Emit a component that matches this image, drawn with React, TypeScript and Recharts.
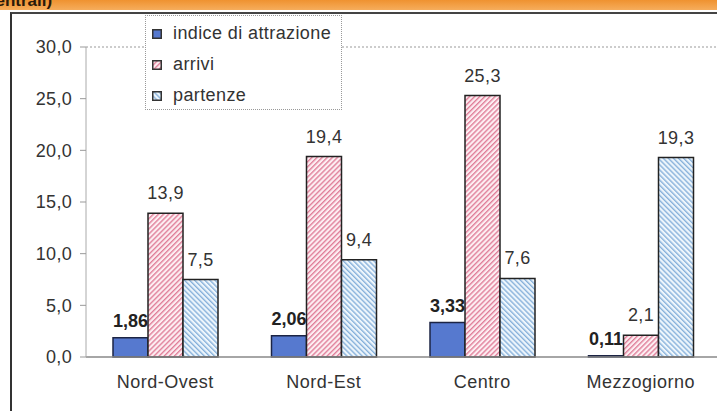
import React from "react";
import {
  BarChart,
  Bar,
  XAxis,
  YAxis,
  Legend,
  LabelList,
  ReferenceLine,
} from "recharts";

const regions = ["Nord-Ovest", "Nord-Est", "Centro", "Mezzogiorno"];
const indice = [1.86, 2.06, 3.33, 0.11];
const arrivi = [13.9, 19.4, 25.3, 2.1];
const partenze = [7.5, 9.4, 7.6, 19.3];
const yTicks = [0, 5, 10, 15, 20, 25, 30];
const seriesOrder = ["indice di attrazione", "arrivi", "partenze"];

const data = regions.map((region, i) => ({
  region,
  indice: indice[i],
  arrivi: arrivi[i],
  partenze: partenze[i],
}));

const FONT = "'Liberation Sans', Arial, sans-serif";
const comma1 = (v: number) => v.toFixed(1).replace(".", ",");
const comma2 = (v: number) => v.toFixed(2).replace(".", ",");

const renderLegend = (props: any) => {
  const items = [...(props.payload || [])].sort(
    (a: any, b: any) => seriesOrder.indexOf(a.value) - seriesOrder.indexOf(b.value)
  );
  return (
    <div style={{ paddingTop: 2, paddingLeft: 6 }}>
      {items.map((entry: any) => (
        <div
          key={entry.value}
          style={{
            height: 31,
            display: "flex",
            alignItems: "center",
            fontFamily: FONT,
            fontSize: 18,
            letterSpacing: 0.4,
            color: "#333",
          }}
        >
          <svg width={10} height={10} style={{ marginRight: 11 }}>
            <rect x={0.75} y={0.75} width={8.5} height={8.5} fill={entry.color} stroke="#333" strokeWidth={1.5} />
          </svg>
          {entry.value}
        </div>
      ))}
    </div>
  );
};

export default function App() {
  return (
    <div
      style={{
        position: "absolute",
        left: 0,
        top: 0,
        width: 717,
        height: 411,
        overflow: "hidden",
        background: "#fff",
      }}
    >
      <div
        style={{
          position: "absolute",
          left: 0,
          top: 0,
          width: 717,
          height: 10,
          background: "linear-gradient(#ef9230, #f6ad5c)",
          overflow: "hidden",
        }}
      >
        <span
          style={{
            position: "absolute",
            left: -14,
            top: -9,
            fontFamily: FONT,
            fontWeight: "bold",
            fontSize: 17,
            color: "#2a1a0a",
          }}
        >
          centrali)
        </span>
      </div>
      <div
        style={{
          position: "absolute",
          left: 10,
          top: 12,
          width: 740,
          height: 420,
          borderLeft: "2px solid #333",
          borderTop: "2px solid #444",
        }}
      />
      <div style={{ position: "absolute", left: 0, top: 0 }}>
        <BarChart
          width={740}
          height={411}
          data={data}
          margin={{ top: 47, right: 20, bottom: 24, left: 0 }}
          barGap={0}
          barSize={35}
        >
          <defs>
            <pattern id="pinkHatch" patternUnits="userSpaceOnUse" width={3.6} height={3.6} patternTransform="rotate(45)">
              <rect width={3.6} height={3.6} fill="#fdeef2" />
              <line x1={0.7} y1={0} x2={0.7} y2={3.6} stroke="#de7693" strokeWidth={1.3} />
            </pattern>
            <pattern id="blueHatch" patternUnits="userSpaceOnUse" width={3.6} height={3.6} patternTransform="rotate(-45)">
              <rect width={3.6} height={3.6} fill="#eef6fc" />
              <line x1={0.7} y1={0} x2={0.7} y2={3.6} stroke="#80acd8" strokeWidth={1.3} />
            </pattern>
          </defs>
          <XAxis
            dataKey="region"
            height={30}
            axisLine={{ stroke: "#888", strokeWidth: 1.5 }}
            tickLine={false}
            tickSize={0}
            tickMargin={18}
            tick={{ fill: "#333", fontSize: 18, fontFamily: FONT, letterSpacing: 0.5 }}
            interval={0}
          />
          <YAxis
            width={86}
            domain={[0, 30]}
            ticks={yTicks}
            tickFormatter={comma1}
            axisLine={{ stroke: "#aaa" }}
            tickLine={{ stroke: "#999" }}
            tickSize={6}
            tickMargin={8}
            tick={{ fill: "#333", fontSize: 18, fontFamily: FONT, letterSpacing: 0.3 }}
          />
          <ReferenceLine y={30} stroke="#999" strokeDasharray="2 2" />
          <Legend
            layout="vertical"
            align="center"
            verticalAlign="middle"
            content={renderLegend}
            wrapperStyle={{
              left: 145,
              top: 15,
              width: 197,
              height: 95,
              border: "1px dotted #999",
              background: "#fff",
              boxSizing: "border-box",
            }}
          />
          <Bar
            dataKey="indice"
            name="indice di attrazione"
            fill="#5679cf"
            stroke="#1c2444"
            strokeWidth={1.5}
            isAnimationActive={false}
          >
            <LabelList
              dataKey="indice"
              position="top"
              offset={11}
              formatter={(v: any) => comma2(Number(v))}
              style={{ fill: "#222", fontSize: 18, fontWeight: "bold", fontFamily: FONT }}
            />
          </Bar>
          <Bar
            dataKey="arrivi"
            name="arrivi"
            fill="url(#pinkHatch)"
            stroke="#222"
            strokeWidth={1.5}
            isAnimationActive={false}
          >
            <LabelList
              dataKey="arrivi"
              position="top"
              offset={14}
              formatter={(v: any) => comma1(Number(v))}
              style={{ fill: "#333", fontSize: 18, fontFamily: FONT, letterSpacing: 0.4 }}
            />
          </Bar>
          <Bar
            dataKey="partenze"
            name="partenze"
            fill="url(#blueHatch)"
            stroke="#222"
            strokeWidth={1.5}
            isAnimationActive={false}
          >
            <LabelList
              dataKey="partenze"
              position="top"
              offset={14}
              formatter={(v: any) => comma1(Number(v))}
              style={{ fill: "#333", fontSize: 18, fontFamily: FONT, letterSpacing: 0.4 }}
            />
          </Bar>
        </BarChart>
      </div>
    </div>
  );
}
